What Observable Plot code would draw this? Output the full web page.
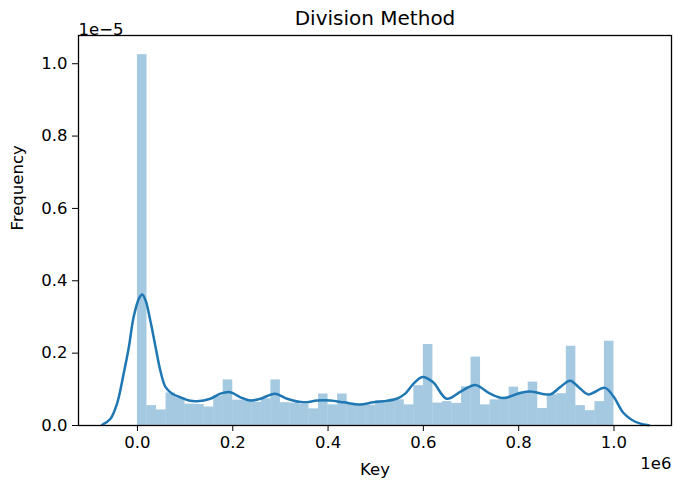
<!DOCTYPE html>
<html>
<head>
<meta charset="utf-8">
<script src="https://cdn.jsdelivr.net/npm/d3@7"></script>
<script src="https://cdn.jsdelivr.net/npm/@observablehq/plot@0.6"></script>
<style>
  html, body { margin: 0; padding: 0; background: #fff; }
</style>
</head>
<body>
<div id="chart"></div>
<script>
// Histogram: 50 bins over keys 0 .. 1e6 (x in units of 1e6), heights in units of 1e-5
const binWidth = 0.02;
const binHeights = [
  1.025, 0.055, 0.043, 0.090, 0.077, 0.059, 0.058, 0.051, 0.082, 0.126,
  0.070, 0.072, 0.064, 0.074, 0.126, 0.063, 0.062, 0.058, 0.046, 0.087,
  0.057, 0.087, 0.060, 0.055, 0.056, 0.069, 0.069, 0.071, 0.057, 0.110,
  0.224, 0.062, 0.066, 0.061, 0.107, 0.189, 0.057, 0.071, 0.078, 0.106,
  0.092, 0.120, 0.047, 0.085, 0.088, 0.219, 0.055, 0.041, 0.066, 0.233
];

// KDE curve (x in 1e6, y in 1e-5)
const kdeX = [-0.074,-0.057,-0.043,-0.029,-0.018,-0.008,0.003,0.010,0.017,0.027,0.038,0.048,0.059,0.073,0.090,0.108,0.125,0.153,0.174,0.195,0.216,0.237,0.258,0.289,0.314,0.349,0.377,0.405,0.433,0.467,0.495,0.516,0.544,0.562,0.579,0.598,0.620,0.649,0.680,0.709,0.740,0.768,0.803,0.824,0.866,0.887,0.908,0.929,0.946,0.981,0.999,1.019,1.037,1.054,1.073];
const kdeY = [0.002,0.018,0.060,0.143,0.217,0.300,0.350,0.362,0.346,0.290,0.217,0.152,0.106,0.088,0.078,0.069,0.067,0.074,0.088,0.092,0.078,0.069,0.074,0.088,0.074,0.064,0.069,0.069,0.064,0.058,0.064,0.067,0.074,0.088,0.115,0.134,0.120,0.074,0.095,0.112,0.088,0.076,0.090,0.094,0.086,0.106,0.124,0.102,0.086,0.104,0.080,0.036,0.016,0.006,0.001];

const xTicks = [0, 0.2, 0.4, 0.6, 0.8, 1.0];
const yTicks = [0, 0.2, 0.4, 0.6, 0.8, 1.0];

const titleText = "Division Method";
const xLabel = "Key";
const yLabel = "Frequency";
const xOffsetText = "1e6";
const yOffsetText = "1e\u22125";

const bins = binHeights.map((h, i) => ({x1: i * binWidth, x2: (i + 1) * binWidth, h}));
const kde = kdeX.map((x, i) => ({x, y: kdeY[i]}));

const C0 = "#1f77b4";

const chart = Plot.plot({
  width: 674,
  height: 489,
  marginLeft: 78,
  marginRight: 3,
  marginTop: 35,
  marginBottom: 64,
  style: {fontFamily: "DejaVu Sans", fontSize: "16.5px", color: "#000", background: "#fff"},
  x: {domain: [-0.1237, 1.1207]},
  y: {domain: [0, 1.078]},
  marks: [
    Plot.rectY(bins, {x1: "x1", x2: "x2", y1: 0, y2: "h", fill: C0, fillOpacity: 0.4}),
    Plot.line(kde, {x: "x", y: "y", stroke: C0, strokeWidth: 2.5, curve: "catmull-rom"}),
    Plot.frame({stroke: "#000", strokeWidth: 1.3}),
    Plot.axisX({ticks: xTicks, tickFormat: d => d.toFixed(1), tickSize: 6, tickPadding: 5, label: null, fontSize: 16.5}),
    Plot.axisY({ticks: yTicks, tickFormat: d => d.toFixed(1), tickSize: 6, tickPadding: 5, label: null, fontSize: 16.5}),
    Plot.text([titleText], {frameAnchor: "top", dy: -17, lineAnchor: "middle", fontSize: 20, fill: "#000"}),
    Plot.text([xLabel], {frameAnchor: "bottom", dy: 44, lineAnchor: "middle", fontSize: 16.5, fill: "#000"}),
    Plot.text([yLabel], {frameAnchor: "left", dx: -61, rotate: -90, lineAnchor: "middle", fontSize: 16.5, fill: "#000"}),
    Plot.text([yOffsetText], {frameAnchor: "top-left", dy: -6, textAnchor: "start", lineAnchor: "middle", fontSize: 16.5, fill: "#000"}),
    Plot.text([xOffsetText], {frameAnchor: "bottom-right", dy: 38, textAnchor: "end", lineAnchor: "middle", fontSize: 16.5, fill: "#000"})
  ]
});

document.getElementById("chart").appendChild(chart);
</script>
</body>
</html>
